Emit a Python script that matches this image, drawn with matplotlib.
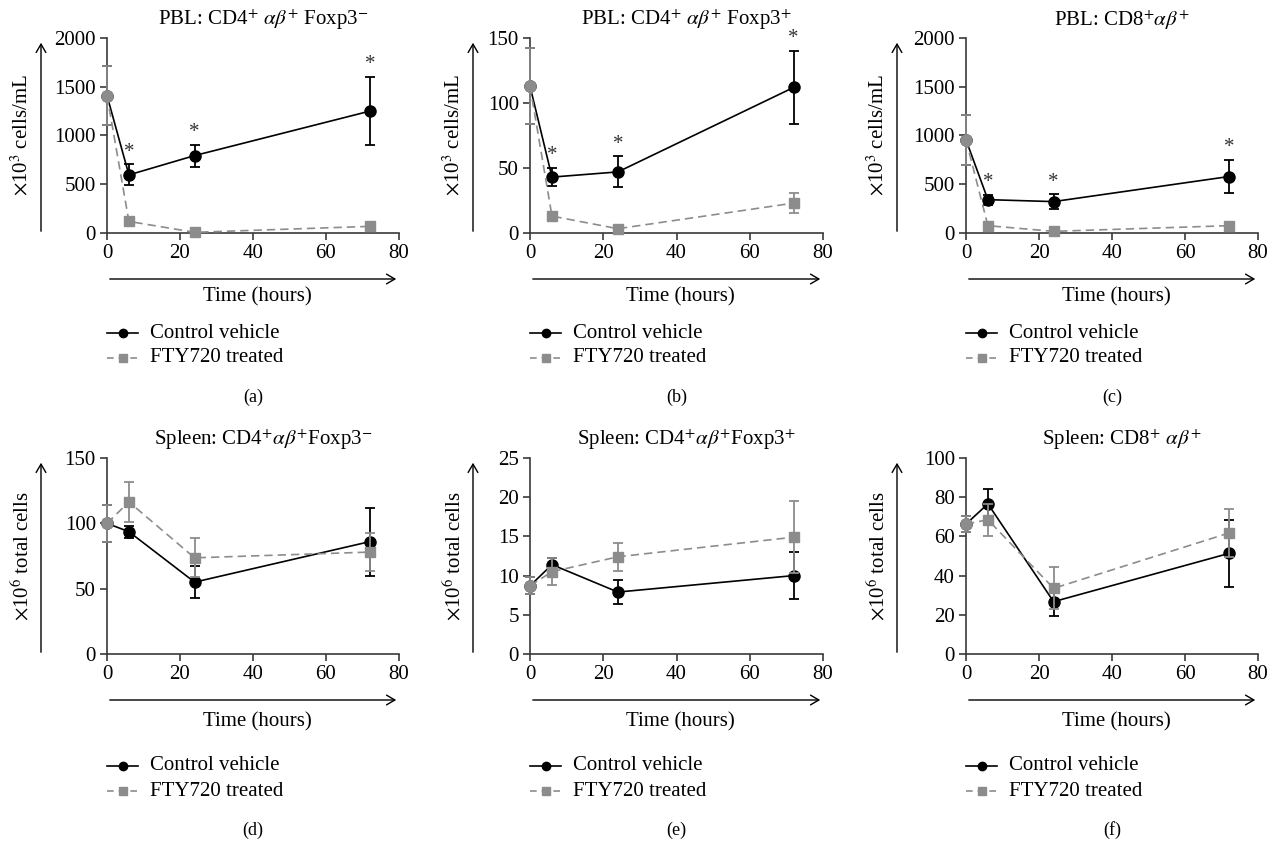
import matplotlib
matplotlib.use('Agg')
import matplotlib.pyplot as plt

plt.rcParams['font.family'] = ['Liberation Serif', 'DejaVu Serif']
plt.rcParams['mathtext.fontset'] = 'stix'
plt.rcParams['font.size'] = 15

# ---- data ----
hours = [0, 6, 24, 72]

a_ctrl = [1410, 596, 794, 1250]
a_ctrl_err = [305, 108, 112, 348]
a_fty = [1410, 119, 7, 68]
a_fty_err = [305, 35, 5, 10]

b_ctrl = [113, 43, 47, 112]
b_ctrl_err = [29, 7, 12, 28]
b_fty = [113, 13, 3.3, 23]
b_fty_err = [29, 2, 1, 8]

c_ctrl = [955, 342, 322, 579]
c_ctrl_err = [260, 51, 75, 172]
c_fty = [955, 75, 17, 75]
c_fty_err = [260, 15, 8, 12]

d_ctrl = [100, 93.6, 55, 86]
d_ctrl_err = [14, 4.7, 12, 26]
d_fty = [100, 116.4, 73.6, 78]
d_fty_err = [14, 15.5, 15, 14.5]

e_ctrl = [8.7, 11.4, 7.9, 10.0]
e_ctrl_err = [1.1, 0.9, 1.5, 2.95]
e_fty = [8.7, 10.5, 12.4, 14.9]
e_fty_err = [1.1, 1.7, 1.75, 4.6]

f_ctrl = [66.3, 76.6, 26.7, 51.3]
f_ctrl_err = [4.3, 7.4, 7.4, 17]
f_fty = [66.3, 68.5, 33.5, 61.7]
f_fty_err = [4.3, 8.2, 10.7, 12.2]

titles = [r'PBL: CD4$^{+}$ $\alpha\beta^{+}$ Foxp3$^{-}$',
          r'PBL: CD4$^{+}$ $\alpha\beta^{+}$ Foxp3$^{+}$',
          r'PBL: CD8$^{+}\alpha\beta^{+}$',
          r'Spleen: CD4$^{+}\alpha\beta^{+}$Foxp3$^{-}$',
          r'Spleen: CD4$^{+}\alpha\beta^{+}$Foxp3$^{+}$',
          r'Spleen: CD8$^{+}$ $\alpha\beta^{+}$']
ylabels = [r'$\times$10$^{3}$ cells/mL'] * 3 + [r'$\times$10$^{6}$ total cells'] * 3
ymax = [2000, 150, 2000, 150, 25, 100]
ystep = [500, 50, 500, 50, 5, 20]
letters = ['(a)', '(b)', '(c)', '(d)', '(e)', '(f)']
starred = [True, True, True, False, False, False]

panels = [(a_ctrl, a_ctrl_err, a_fty, a_fty_err),
          (b_ctrl, b_ctrl_err, b_fty, b_fty_err),
          (c_ctrl, c_ctrl_err, c_fty, c_fty_err),
          (d_ctrl, d_ctrl_err, d_fty, d_fty_err),
          (e_ctrl, e_ctrl_err, e_fty, e_fty_err),
          (f_ctrl, f_ctrl_err, f_fty, f_fty_err)]

W, H = 1278, 842
fig = plt.figure(figsize=(W / 100, H / 100), dpi=100)

def fx(x):
    return x / W

def fy(y):
    return 1 - y / H

# pixel layout: left, right, top, bottom of each axes; y-arrow x
lefts = [107, 530, 966]
rights = [399, 823, 1258]
tops = [38, 458]
bottoms = [233, 654]
yarrow_x = [41, 473, 897]

GRAY = '#8c8c8c'
SPINE = '#3a3a3a'

for i, (ctrl, ctrl_err, fty, fty_err) in enumerate(panels):
    r, c = divmod(i, 3)
    L, R, T, B = lefts[c], rights[c], tops[r], bottoms[r]
    ax = fig.add_axes([fx(L), fy(B), (R - L) / W, (B - T) / H])

    ax.errorbar(hours, ctrl, yerr=ctrl_err, color='black', lw=1.2,
                marker='o', ms=8, capsize=3.5, elinewidth=1.3,
                capthick=1.3, clip_on=False, zorder=3)
    ax.errorbar(hours, fty, yerr=fty_err, color=GRAY, lw=1.2, ls=(0, (5, 3)),
                marker='s', ms=7, markevery=[1, 2, 3], capsize=3.5,
                elinewidth=1.3, capthick=1.3, clip_on=False, zorder=4)
    # baseline point of the treated group is drawn as a circle
    ax.plot(hours[:1], fty[:1], 'o', color=GRAY, ms=8, clip_on=False, zorder=5)

    if starred[i]:
        for t, v, e in zip(hours[1:], ctrl[1:], ctrl_err[1:]):
            ax.annotate('*', xy=(t, v + e), xytext=(0, 2),
                        textcoords='offset points', ha='center', va='bottom',
                        fontsize=15, color='#333333')

    ax.set_xlim(0, 80)
    ax.set_ylim(0, ymax[i])
    ax.set_xticks([0, 20, 40, 60, 80])
    ax.set_yticks(range(0, ymax[i] + 1, ystep[i]))
    for s in ['top', 'right']:
        ax.spines[s].set_visible(False)
    for s in ['left', 'bottom']:
        ax.spines[s].set_color(SPINE)
        ax.spines[s].set_linewidth(1.2)
    ax.tick_params(direction='out', length=5, width=1.2, color=SPINE,
                   labelsize=15, pad=3)

    # title
    fig.text(fx((L + R) / 2 + 10), fy(T - 18), titles[i], ha='center',
             va='center', fontsize=15)

    # y arrow + label
    ya = yarrow_x[c]
    fig.add_artist(matplotlib.patches.FancyArrowPatch(
        (fx(ya), fy(B + 1)), (fx(ya), fy(T + 2)), transform=fig.transFigure,
        arrowstyle='->,head_length=6,head_width=3.5', lw=1.0, color='black',
        mutation_scale=1))
    fig.text(fx(ya - 19), fy((T + B) / 2), ylabels[i], rotation=90,
             ha='center', va='center', fontsize=15)

    # x arrow + label
    xa_y = B + 46
    fig.add_artist(matplotlib.patches.FancyArrowPatch(
        (fx(L), fy(xa_y)), (fx(R), fy(xa_y)), transform=fig.transFigure,
        arrowstyle='->,head_length=6,head_width=3.5', lw=1.0, color='black',
        mutation_scale=1))
    fig.text(fx((L + R) / 2 + 4), fy(xa_y + 18 + 4 * r), 'Time (hours)',
             ha='center', va='center', fontsize=15)

    # legend
    ly = B + 100 + 12 * r
    for k, (lab, col, ls, mk) in enumerate([('Control vehicle', 'black', '-', 'o'),
                                              ('FTY720 treated', GRAY, (0, (4, 3)), 's')]):
        yy = fy(ly + 25 * k)
        fig.add_artist(matplotlib.lines.Line2D([fx(L), fx(L + 31)], [yy, yy],
                                               color=col, lw=1.2, ls=ls,
                                               transform=fig.transFigure))
        fig.add_artist(matplotlib.lines.Line2D([fx(L + 15.5)], [yy], marker=mk,
                                               color=col, ms=6,
                                               transform=fig.transFigure))
        fig.text(fx(L + 43), yy, lab, ha='left', va='center', fontsize=15)

    # panel letter
    fig.text(fx((L + R) / 2), fy(B + 164 + 12 * r), letters[i],
             ha='center', va='center', fontsize=13)

fig.savefig('out.png', dpi=100, facecolor='white')
